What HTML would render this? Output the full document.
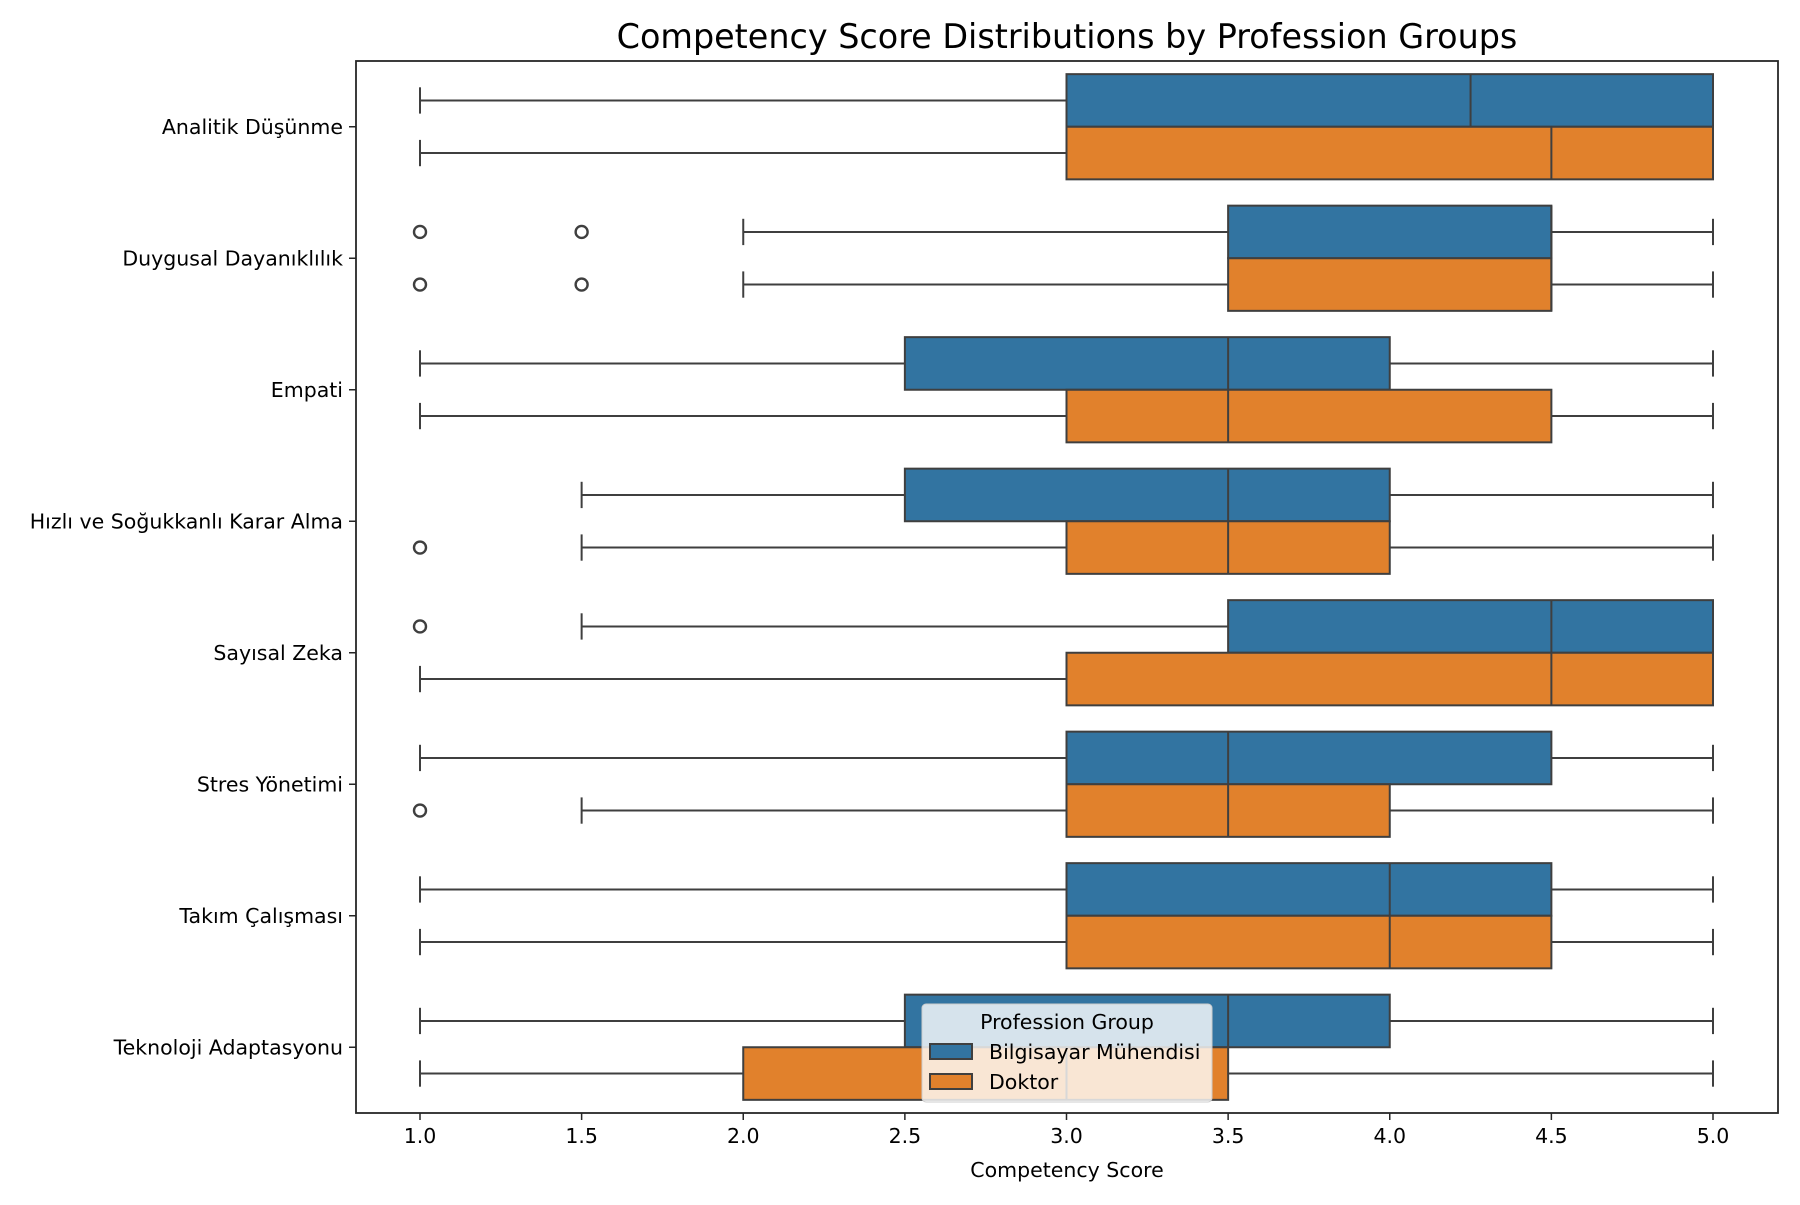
<!DOCTYPE html>
<html><head><meta charset="utf-8"><style>
html,body{margin:0;padding:0;background:#fff;}
svg text{font-family:"DejaVu Sans","Liberation Sans",sans-serif;fill:#000;}
</style></head><body>
<svg id="chart" width="1800" height="1200" viewBox="0 0 1800 1200" xmlns="http://www.w3.org/2000/svg">
<rect width="1800" height="1200" fill="#fff"/>
<text x="1067" y="48" font-size="33.4" text-anchor="middle">Competency Score Distributions by Profession Groups</text>
<g id="marks"></g>
<g id="axes"></g>
<text x="1067" y="1177" font-size="20.5" text-anchor="middle">Competency Score</text>
<g>
<rect x="922" y="1004" width="290" height="98" rx="4" fill="#fff" fill-opacity="0.8" stroke="#ccc" stroke-width="1"/>
<text x="1067" y="1029" font-size="20.5" text-anchor="middle">Profession Group</text>
<rect x="930" y="1044" width="42" height="15" fill="#3274a1" stroke="#3f3f3f" stroke-width="2"/>
<text x="989" y="1059" font-size="20.5">Bilgisayar Mühendisi</text>
<rect x="930" y="1074" width="42" height="15" fill="#e1812c" stroke="#3f3f3f" stroke-width="2"/>
<text x="989" y="1089" font-size="20.5">Doktor</text>
</g>
</svg>
<script>
const categories = ["Analitik Düşünme","Duygusal Dayanıklılık","Empati","Hızlı ve Soğukkanlı Karar Alma","Sayısal Zeka","Stres Yönetimi","Takım Çalışması","Teknoloji Adaptasyonu"];
const seriesNames = ["Bilgisayar Mühendisi","Doktor"];
// each: [whiskerLow, q1, median, q3, whiskerHigh]
const engStats = [[1,3,4.25,5,5],[2,3.5,4.5,4.5,5],[1,2.5,3.5,4,5],[1.5,2.5,3.5,4,5],[1.5,3.5,4.5,5,5],[1,3,3.5,4.5,5],[1,3,4,4.5,5],[1,2.5,3.5,4,5]];
const docStats = [[1,3,4.5,5,5],[2,3.5,4.5,4.5,5],[1,3,3.5,4.5,5],[1.5,3,3.5,4,5],[1,3,4.5,5,5],[1.5,3,3.5,4,5],[1,3,4,4.5,5],[1,2,3,3.5,5]];
const engOutliers = [[],[1,1.5],[],[],[1],[],[],[]];
const docOutliers = [[],[1,1.5],[],[1],[],[1],[],[]];
const xTicks = [1.0,1.5,2.0,2.5,3.0,3.5,4.0,4.5,5.0];
const xTickLabels = ["1.0","1.5","2.0","2.5","3.0","3.5","4.0","4.5","5.0"];

const L=356,R=1778,T=61,B=1113;
const x0=420,x1=1713;
function xs(v){return x0+(v-1)*(x1-x0)/4;}
const band=(B-T)/categories.length;
function yc(i){return T+band*(i+0.5);}
const NS="http://www.w3.org/2000/svg";
function mk(tag,attrs,parent){const e=document.createElementNS(NS,tag);for(const k in attrs)e.setAttribute(k,attrs[k]);parent.appendChild(e);return e;}
const marks=document.getElementById('marks'),axes=document.getElementById('axes');
const colors=["#3274a1","#e1812c"],edge="#3f3f3f";
const bw=band*0.4;
[engStats,docStats].forEach((stats,s)=>{
  const outs=s===0?engOutliers:docOutliers;
  stats.forEach((st,i)=>{
    const cy=yc(i)+(s===0?-bw/2:bw/2);
    const g=mk('g',{},marks);
    
    
    const [wl,q1,md,q3,wh]=st;
    mk('line',{x1:xs(wl),x2:xs(q1),y1:cy,y2:cy,stroke:edge,'stroke-width':2},g);
    mk('line',{x1:xs(q3),x2:xs(wh),y1:cy,y2:cy,stroke:edge,'stroke-width':2},g);
    mk('line',{x1:xs(wl),x2:xs(wl),y1:cy-bw/4,y2:cy+bw/4,stroke:edge,'stroke-width':2},g);
    mk('line',{x1:xs(wh),x2:xs(wh),y1:cy-bw/4,y2:cy+bw/4,stroke:edge,'stroke-width':2},g);
    mk('rect',{x:xs(q1),y:cy-bw/2,width:Math.max(0,xs(q3)-xs(q1)),height:bw,fill:colors[s],stroke:edge,'stroke-width':2},g);
    mk('line',{x1:xs(md),x2:xs(md),y1:cy-bw/2,y2:cy+bw/2,stroke:edge,'stroke-width':2},g);
    outs[i].forEach(o=>{
      const c=mk('circle',{cx:xs(o),cy:cy,r:6,fill:'none',stroke:edge,'stroke-width':2.4},g);
      
      
    });
  });
});
const frame=mk('rect',{x:L,y:T,width:R-L,height:B-T,fill:'none',stroke:'#262626','stroke-width':1.8},axes);


xTicks.forEach((v,i)=>{
  mk('line',{x1:xs(v),x2:xs(v),y1:B,y2:B+7,stroke:'#262626','stroke-width':1.5},axes);
  const t=mk('text',{x:xs(v),y:B+30,'font-size':20.5,'text-anchor':'middle'},axes);
  t.textContent=xTickLabels[i];
  
  
});
categories.forEach((c,i)=>{
  mk('line',{x1:L-7,x2:L,y1:yc(i),y2:yc(i),stroke:'#262626','stroke-width':1.5},axes);
  const t=mk('text',{x:L-13,y:yc(i)+7,'font-size':20.5,'text-anchor':'end'},axes);
  t.textContent=c;
  
  
});
</script>
</body></html>
